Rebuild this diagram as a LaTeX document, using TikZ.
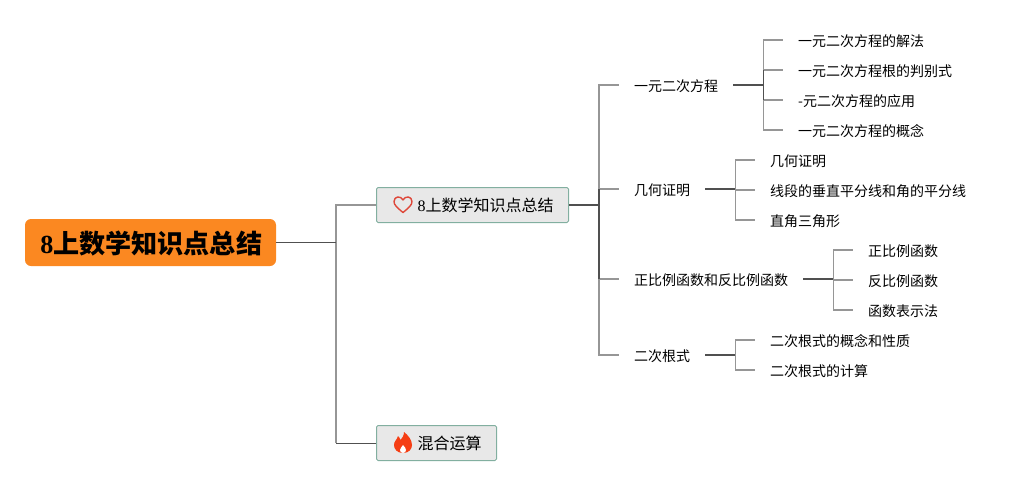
\documentclass[tikz,border=0pt]{standalone}
\usepackage{fontspec}
\setmainfont{Noto Sans CJK SC}
\newfontfamily\numfont{Liberation Serif}
\usetikzlibrary{positioning, calc}
\definecolor{rootorange}{RGB}{251,136,33}
\definecolor{subgray}{RGB}{232,232,232}
\definecolor{subedge}{RGB}{130,175,160}
\definecolor{linegray}{RGB}{150,150,150}
\definecolor{linedark}{RGB}{80,80,80}
\definecolor{heartred}{RGB}{222,72,58}
\definecolor{flamered}{RGB}{245,62,20}
\tikzset{
  rootblk/.style={rectangle, fill=rootorange, rounded corners=6pt,
    minimum width=251pt, minimum height=47pt, inner sep=0pt,
    text height=28pt, text depth=5.2pt,
    font=\fontsize{26.1}{30}\selectfont\bfseries},
  subblk/.style={rectangle, draw=subedge, fill=subgray, rounded corners=1.5pt,
    line width=1pt, minimum height=35pt, inner ysep=0pt, inner xsep=15pt,
    anchor=west, font=\fontsize{16}{20}\selectfont},
  item/.style={rectangle, inner xsep=15pt, inner ysep=0pt, anchor=west,
    text height=15.6pt, text depth=3pt, font=\fontsize{14}{18}\selectfont},
  grayln/.style={draw=linegray, line width=1.5pt},
  darkln/.style={draw=linedark, line width=1.7pt},
  thinln/.style={draw=linedark, line width=1pt},
}
\begin{document}
\begin{tikzpicture}[x=1pt, y=-1pt]
  \useasboundingbox (0,0) rectangle (1026,485);

  % -- Root and second level --
  \node[rootblk] (root) at (150.5,242.5) {\hspace*{1.5pt}{\numfont 8}上数学知识点总结};
  \node[subblk] (summary) at (376,205) {\hspace*{26pt}{\numfont 8}上数学知识点总结};
  \node[subblk] (mixed) at (376,443) {\hspace*{26pt}混合运算};
  \coordinate (trunk) at (336,242);

  % -- Third level --
  \node[item] (quad) at (619,85) {一元二次方程};
  \node[item] (proof) at (619,189) {几何证明};
  \node[item] (func) at (619,279) {正比例函数和反比例函数};
  \node[item] (root2) at (619,355) {二次根式};
  \coordinate (branch) at (599,205);

  % -- Leaves of each topic --
  \node[item] (q1) at (783,40) {一元二次方程的解法};
  \node[item, below=30pt of q1.west, anchor=west] (q2) {一元二次方程根的判别式};
  \node[item, below=30pt of q2.west, anchor=west] (q3) {-元二次方程的应用};
  \node[item, below=30pt of q3.west, anchor=west] (q4) {一元二次方程的概念};

  \node[item] (p1) at (755,160) {几何证明};
  \node[item, below=30pt of p1.west, anchor=west] (p2) {线段的垂直平分线和角的平分线};
  \node[item, below=30pt of p2.west, anchor=west] (p3) {直角三角形};

  \node[item] (f1) at (853,250) {正比例函数};
  \node[item, below=30pt of f1.west, anchor=west] (f2) {反比例函数};
  \node[item, below=30pt of f2.west, anchor=west] (f3) {函数表示法};

  \node[item] (r1) at (755,340) {二次根式的概念和性质};
  \node[item, below=30pt of r1.west, anchor=west] (r2) {二次根式的计算};

  % -- Junctions --
  \coordinate (jq) at ($(quad.east)+(30,0)$);
  \coordinate (jp) at ($(proof.east)+(30,0)$);
  \coordinate (jf) at ($(func.east)+(30,0)$);
  \coordinate (jr) at ($(root2.east)+(30,0)$);

  % -- Gray elbows --
  \draw[grayln] (trunk) |- (summary.west);
  \draw[grayln] (trunk) -- (trunk |- mixed.west);
  \draw[grayln] (branch) |- (quad.west);
  \draw[grayln] (branch) |- (proof.west);
  \draw[grayln] (branch) |- (func.west);
  \draw[grayln] (branch) |- (root2.west);
  \draw[grayln] (jq) |- (q1.west);
  \draw[grayln] (jq) |- (q2.west);
  \draw[grayln] (jq) |- (q3.west);
  \draw[grayln] (jq) |- (q4.west);
  \draw[grayln] (jp) |- (p1.west);
  \draw[grayln] (jp) |- (p2.west);
  \draw[grayln] (jp) |- (p3.west);
  \draw[grayln] (jf) |- (f1.west);
  \draw[grayln] (jf) |- (f2.west);
  \draw[grayln] (jf) |- (f3.west);
  \draw[grayln] (jr) |- (r1.west);
  \draw[grayln] (jr) |- (r2.west);

  % -- Dark parts --
  \draw[thinln] (root.east |- trunk) -- (trunk);
  \draw[thinln] (trunk |- mixed.west) -- (mixed.west);
  \draw[darkln] (summary.east) -- (branch);
  \draw[darkln] (branch |- proof.west) -- (branch |- func.west);
  \draw[darkln] (quad.east) -- (jq);
  \draw[darkln] (proof.east) -- (jp);
  \draw[darkln] (func.east) -- (jf);
  \draw[darkln] (root2.east) -- (jr);
  \draw[darkln] (jq |- q2.west) -- (jq |- q3.west);

  % -- Icons --
  \draw[heartred, line width=1.4pt, line join=round]
       (403,212.5) .. controls (397,207.5) and (394,205) .. (394,201.5)
       .. controls (394,196) and (401,195.5) .. (403,200)
       .. controls (405,195.5) and (412,196) .. (412,201.5)
       .. controls (412,205) and (409,207.5) .. (403,212.5) -- cycle;
  \fill[flamered] (403,453) .. controls (397,453) and (394,449) .. (394,445)
       .. controls (394,441) and (397,440) .. (398,436)
       .. controls (399,437) and (400,438) .. (400.5,440)
       .. controls (402,438) and (404,436) .. (404,432)
       .. controls (408,435) and (412,440) .. (412,445)
       .. controls (412,449) and (409,453) .. (403,453) -- cycle;
  \fill[white] (403,453) .. controls (401,453) and (400,451.5) .. (400,450)
       .. controls (400,448) and (402,447) .. (403,445)
       .. controls (404.5,447) and (406,448) .. (406,450)
       .. controls (406,451.5) and (405,453) .. (403,453) -- cycle;
\end{tikzpicture}
\end{document}
